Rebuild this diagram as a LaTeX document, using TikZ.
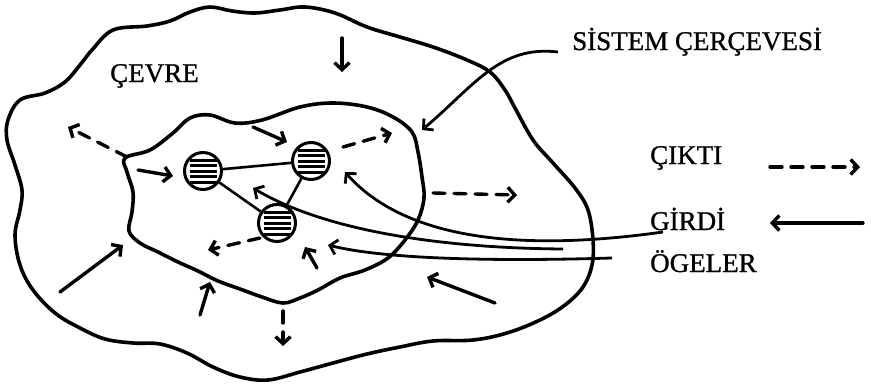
\documentclass[tikz,border=0pt]{standalone}
\usepackage{fontspec}
\setmainfont{Liberation Serif}
\newfontfamily\lblfont[FakeBold=1]{Liberation Serif}
\usetikzlibrary{arrows.meta,positioning}
\tikzset{
  rim/.style={line width=3.6pt,line join=round},
  elem/.style={circle,draw,line width=3pt,minimum size=37pt,inner sep=0pt,
    path picture={\foreach \k in {-11,-5.5,0,5.5,11}
      \draw[line width=3pt] ([xshift=5pt,yshift=\k pt]path picture bounding box.west)
        -- ([xshift=-5pt,yshift=\k pt]path picture bounding box.east);}},
  lbl/.style={font=\lblfont\fontsize{27}{30}\selectfont,inner sep=0pt,anchor=base west},
  arr/.style={-{Straight Barb[length=7pt,width=15pt]},line width=3.4pt,line cap=round},
  arrd/.style={arr,dash pattern=on 12pt off 9pt},
  lead/.style={-{Straight Barb[length=7pt,width=15pt]},line width=2.8pt},
}
\begin{document}
\begin{tikzpicture}[x=1pt,y=-1pt]
  \useasboundingbox (0,0) rectangle (871,388);
  % environment and system boundary
  \draw[rim] plot[smooth cycle,tension=0.6] coordinates {
    (113,30) (147,26) (170,21) (190,12) (210,7) (232,11) (255,13) (280,10)
    (305,7) (335,13) (367,27) (400,37) (433,47) (467,60) (490,72) (505,90)
    (515,108) (533,140) (553,163) (575,188) (588,210) (593,240) (592,265)
    (583,287) (565,305) (540,320) (507,333) (473,340) (433,341) (400,347)
    (367,354) (333,363) (300,372) (268,380) (240,377) (213,367) (187,353)
    (160,344) (133,343) (105,339) (80,328) (55,313) (33,290) (20,265)
    (15,235) (20,210) (22,190) (15,165) (7,140) (8,120) (20,100) (45,93)
    (65,82) (80,65) (92,50)};
  \draw[rim] plot[smooth cycle,tension=0.6] coordinates {
    (125,158) (150,150) (173,133) (190,118) (210,115) (235,123) (262,120)
    (300,107) (333,103) (367,107) (393,117) (412,132) (418,152) (422,177)
    (424,198) (418,220) (405,240) (388,258) (365,270) (340,278) (318,290)
    (300,298) (283,303) (262,297) (240,289) (218,281) (198,271) (178,262)
    (158,252) (140,243) (129,231) (132,212) (133,192) (127,172)};
  % elements
  \node[elem] (c1) at (203,171) {};
  \node[elem] (c2) at (311,161) {};
  \node[elem] (c3) at (277,223) {};
  \draw[line width=2.6pt] (c1) -- (c2) (c1) -- (c3) (c2) -- (c3);
  % labels
  \node[lbl] (cevre) at (110,82) {ÇEVRE};
  \node[lbl] (frame) at (572,50) {SİSTEM ÇERÇEVESİ};
  \node[lbl] (cikti) at (650,164) {ÇIKTI};
  \node[lbl] (girdi) at (650,230) {GİRDİ};
  \node[lbl] (ogeler) at (650,272) {ÖGELER};
  % inputs
  \draw[arr] (138,170) -- (173,176);
  \draw[arr] (253,127) -- (287,142);
  \draw[arr] (342,38) -- (342,72);
  \draw[arr] (60,292) -- (123,245);
  \draw[arr] (200,315) -- (210,282);
  \draw[arr] (317,268) -- (305,247);
  \draw[arr] (495,303) -- (427,277);
  % outputs
  \draw[arrd] (127,157) -- (68,127);
  \draw[arrd] (343,147) -- (392,133);
  \draw[arrd] (260,238) -- (208,250);
  \draw[arrd] (433,193) -- (517,195);
  \draw[arrd] (283,311) -- (283,346);
  % leaders
  \coordinate (f0) at (558,52);
  \coordinate (g0) at (663,232);
  \coordinate (e1) at (563,249);
  \coordinate (e2) at (612,258);
  \draw[lead] (f0) .. controls (500,45) and (475,85) .. (422,130);
  \draw[lead] (g0) .. controls (500,255) and (398,232) .. (345,172);
  \draw[lead] (e1) .. controls (430,248) and (320,228) .. (253,188);
  \draw[lead] (e2) .. controls (480,262) and (380,258) .. (328,245);
  % legend
  \draw[arrd] (770,167) -- (860,167);
  \draw[arr] (863,223) -- (770,223);
\end{tikzpicture}
\end{document}
